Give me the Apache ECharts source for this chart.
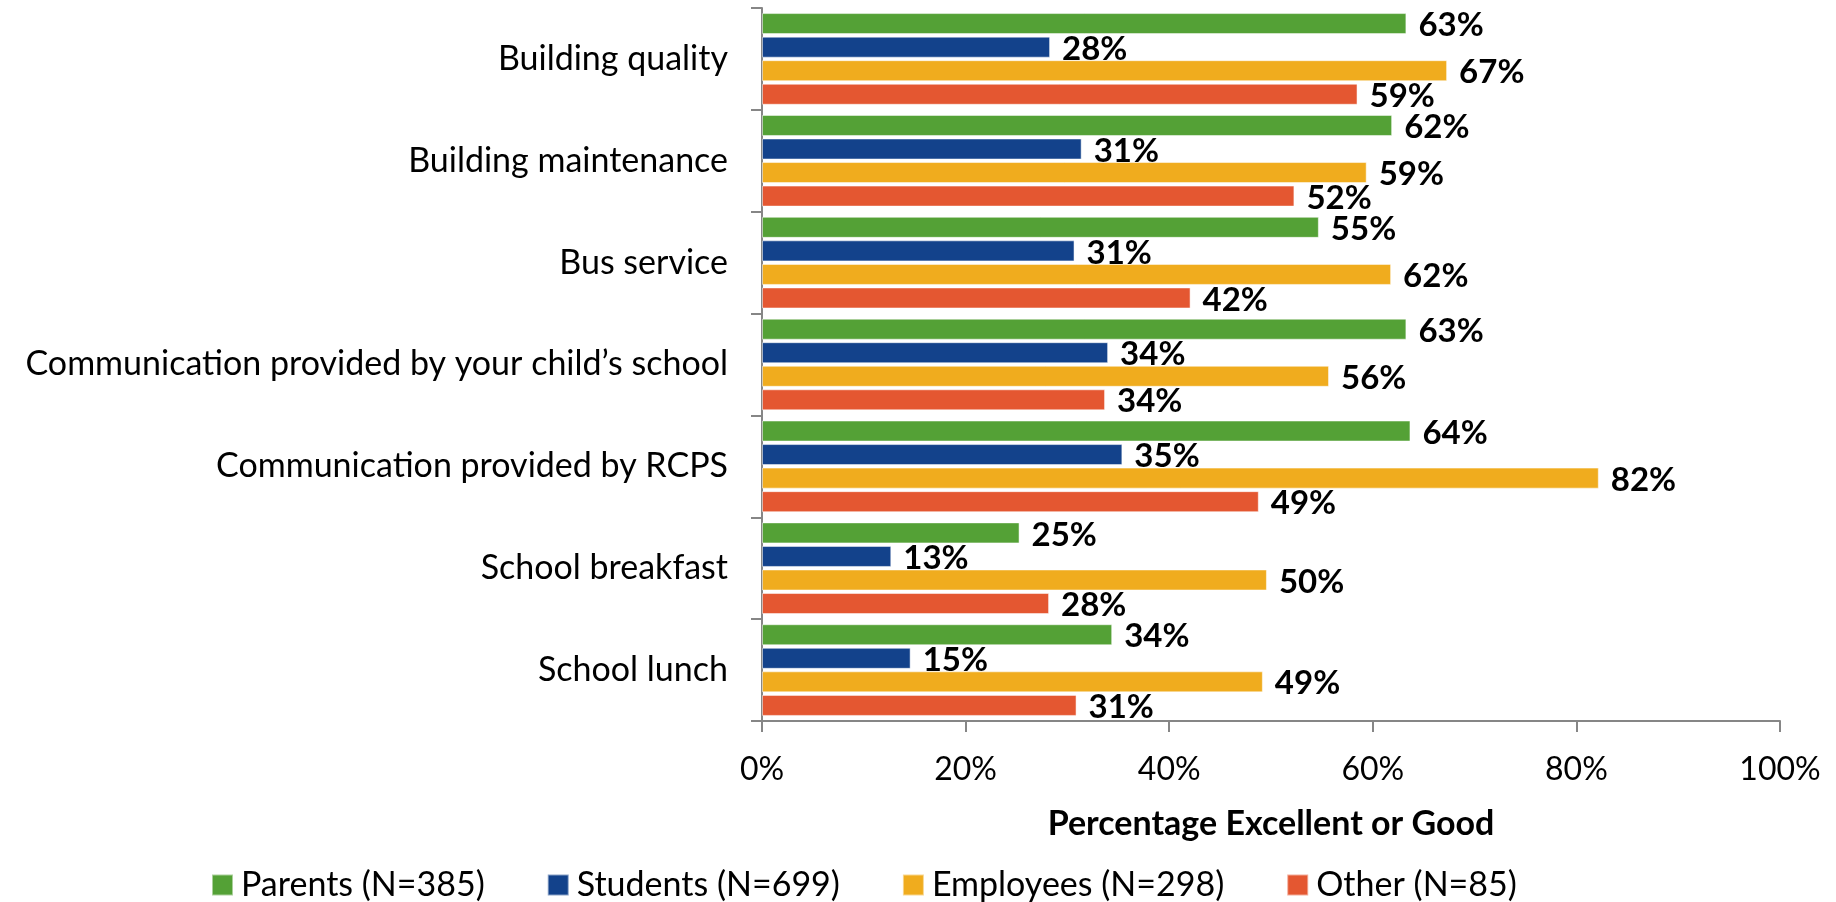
<!DOCTYPE html>
<html>
<head>
<meta charset="utf-8">
<script src="https://cdn.jsdelivr.net/npm/echarts@6/dist/echarts.min.js"></script>
<style>
html,body{margin:0;padding:0;background:#fff;}
#chart{width:1836px;height:902px;}
</style>
</head>
<body>
<div id="chart"></div>
<script>
const categories = [
  "Building quality",
  "Building maintenance",
  "Bus service",
  "Communication provided by your child\u2019s school",
  "Communication provided by RCPS",
  "School breakfast",
  "School lunch"
];
const seriesNames = ["Parents (N=385)", "Students (N=699)", "Employees (N=298)", "Other (N=85)"];
const parents   = [63.3, 61.9, 54.7, 63.3, 63.7, 25.3, 34.4];
const students  = [28.3, 31.4, 30.7, 34.0, 35.4, 12.7, 14.6];
const employees = [67.3, 59.4, 61.8, 55.7, 82.2, 49.6, 49.2];
const other     = [58.5, 52.3, 42.1, 33.7, 48.8, 28.2, 30.9];
const xTicks = [0, 20, 40, 60, 80, 100];
const colors = ["#54A136", "#13428B", "#F0AC1E", "#E45731"];

const FONT = "Lato, 'Open Sans', sans-serif";
const allData = [parents, students, employees, other];

const chart = echarts.init(document.getElementById('chart'), null, {renderer: 'canvas'});
chart.setOption({
  animation: false,
  backgroundColor: '#ffffff',
  textStyle: {fontFamily: FONT},
  grid: {left: 762, right: 56, top: 8, bottom: 181, containLabel: false},
  legend: {
    left: 206,
    top: 863,
    itemWidth: 21,
    itemHeight: 21,
    itemGap: 62,
    icon: 'rect',
    textStyle: {fontFamily: FONT, fontSize: 34, color: '#000', padding: [0, 0, 0, 3]},
    data: seriesNames
  },
  xAxis: {
    type: 'value',
    min: xTicks[0],
    max: xTicks[xTicks.length - 1],
    interval: 20,
    name: 'Percentage Excellent or Good',
    nameLocation: 'middle',
    nameGap: 86,
    nameTextStyle: {fontFamily: FONT, fontSize: 34, fontWeight: 'bold', color: '#000'},
    axisLine: {show: true, lineStyle: {color: '#868686', width: 2}},
    axisTick: {show: true, length: 11, lineStyle: {color: '#868686', width: 2}},
    splitLine: {show: false},
    axisLabel: {
      formatter: '{value}%',
      margin: 33,
      fontFamily: FONT, fontSize: 32, color: '#000'
    }
  },
  yAxis: {
    type: 'category',
    inverse: true,
    data: categories,
    axisLine: {show: true, lineStyle: {color: '#868686', width: 2}},
    axisTick: {show: true, length: 11, lineStyle: {color: '#868686', width: 2}},
    axisLabel: {margin: 34, fontFamily: FONT, fontSize: 34, color: '#000'}
  },
  series: seriesNames.map((n, i) => ({
    name: n,
    type: 'bar',
    data: allData[i],
    barGap: '12%',
    barCategoryGap: '10%',
    itemStyle: {color: colors[i], borderColor: 'rgba(255,255,255,0.5)', borderWidth: 1},
    label: {
      show: true,
      position: 'right',
      distance: 12,
      offset: [0, 2],
      formatter: p => Math.round(p.value) + '%',
      fontFamily: FONT, fontSize: 33, fontWeight: 'bold', color: '#000'
    }
  }))
});
</script>
</body>
</html>
